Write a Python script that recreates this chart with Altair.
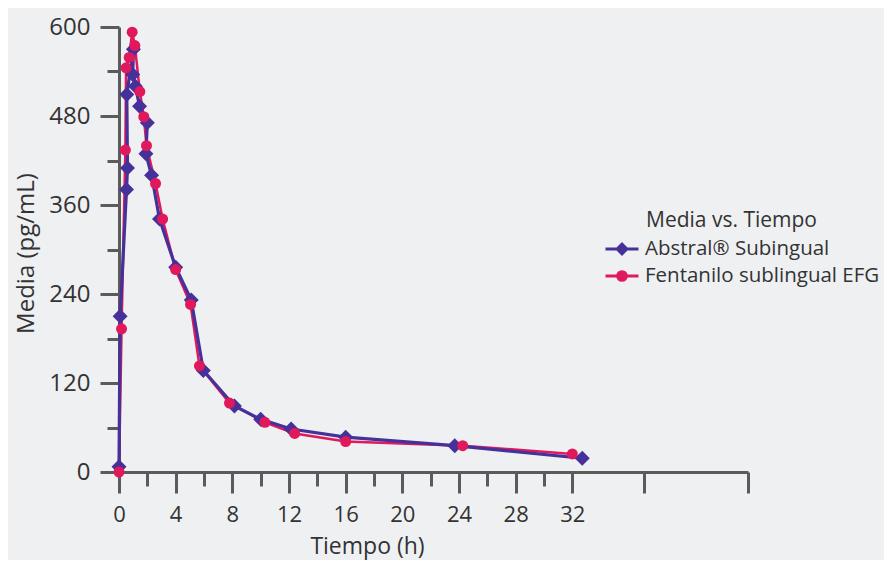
import altair as alt
import pandas as pd

SERIES = ["Abstral® Subingual", "Fentanilo sublingual EFG"]
LEGEND_TITLE = ["Media vs. Tiempo"]

abstral_t = [0, 0.08, 0.53, 0.6, 0.55, 1.02, 0.97, 1.16, 1.45, 2.0, 1.9, 2.3, 2.86, 4.0, 5.1, 5.95, 8.15, 10.0, 12.15, 16.0, 23.7, 32.7]
abstral_v = [7, 210, 381, 410, 509, 570, 536, 520, 493, 471, 429, 400, 341, 276, 232, 137, 89, 71, 58, 47, 35.5, 18.5]

fent_t = [0, 0.18, 0.45, 0.5, 0.72, 0.93, 1.12, 1.47, 1.75, 1.94, 2.58, 3.08, 4.0, 5.05, 5.68, 7.8, 10.3, 12.4, 16.0, 24.26, 32.0]
fent_v = [0, 193, 434, 545, 559, 593, 575, 513, 479, 440, 389, 341, 273, 226, 143, 93, 67, 52, 41, 35.5, 24.4]

x_major_ticks = [0, 4, 8, 12, 16, 20, 24, 28, 32, 37.05, 44.4]
x_minor_ticks = [2, 6, 10, 14, 18, 22, 26, 30]
y_major_ticks = [0, 120, 240, 360, 480, 600]
y_minor_ticks = [60, 180, 300, 420, 540]

PURPLE = "#46309a"
PINK = "#e0195c"
AX = "#5b5b5b"
TXT = "#333333"
FONT = "Open Sans"
BG = "#eff0f2"

df_a = pd.DataFrame({"t": abstral_t, "v": abstral_v, "series": SERIES[0], "idx": range(len(abstral_t))})
df_f = pd.DataFrame({"t": fent_t, "v": fent_v, "series": SERIES[1], "idx": range(len(fent_t))})
df_all = pd.concat([df_a, df_f], ignore_index=True)

xscale = alt.Scale(domain=[0, 44.4], nice=False, zero=False)
yscale = alt.Scale(domain=[0, 600], nice=False)

common = dict(domainColor=AX, domainWidth=3, tickColor=AX, tickWidth=3, grid=False,
              labelFont=FONT, labelColor=TXT, labelFlush=False,
              titleFont=FONT, titleColor=TXT, titleFontWeight="normal")

x_major_axis = alt.Axis(values=x_major_ticks, tickSize=21, labelPadding=11, labelFontSize=22,
                        labelExpr="datum.value <= 32 ? datum.label : ''",
                        title="Tiempo (h)", titleFontSize=23, titleX=248, titleY=81,
                        titleBaseline="alphabetic", orient="bottom", **common)
x_minor_axis = alt.Axis(values=x_minor_ticks, tickSize=14, labels=False, domain=False,
                        title=None, orient="bottom", tickColor=AX, tickWidth=3, grid=False)
y_major_axis = alt.Axis(values=y_major_ticks, tickSize=19, labelPadding=10, labelFontSize=24,
                        title="Media (pg/mL)", titleFontSize=24, titleX=-86, titleY=226,
                        titleBaseline="alphabetic", orient="left", **common)
y_minor_axis = alt.Axis(values=y_minor_ticks, tickSize=12, labels=False, domain=False,
                        title=None, orient="left", tickColor=AX, tickWidth=3, grid=False)

base_a = alt.Chart(df_a)
base_f = alt.Chart(df_f)

line_f = base_f.mark_line(color=PINK, strokeWidth=2.5).encode(
    x=alt.X("t:Q", scale=xscale, axis=x_major_axis),
    y=alt.Y("v:Q", scale=yscale, axis=y_major_axis),
    order=alt.Order("idx:Q"),
)
line_a = base_a.mark_line(color=PURPLE, strokeWidth=3.2).encode(
    x=alt.X("t:Q", scale=xscale, axis=x_minor_axis),
    y=alt.Y("v:Q", scale=yscale, axis=y_minor_axis),
    order=alt.Order("idx:Q"),
)
pts_a = base_a.mark_point(shape="diamond", filled=True, size=225, color=PURPLE, opacity=1).encode(
    x=alt.X("t:Q", scale=xscale, axis=None),
    y=alt.Y("v:Q", scale=yscale, axis=None),
)
pts_f = base_f.mark_point(shape="circle", filled=True, size=121, color=PINK, opacity=1).encode(
    x=alt.X("t:Q", scale=xscale, axis=None),
    y=alt.Y("v:Q", scale=yscale, axis=None),
)

DIAMOND_LINE = "M-1,0L1,0M0,-0.3L0.3,0L0,0.3L-0.3,0Z"
CIRCLE_LINE = "M-1,0L1,0M0.27,0A0.27,0.27,0,1,1,-0.27,0A0.27,0.27,0,1,1,0.27,0Z"

legend = alt.Legend(
    title=None, orient="none", legendX=485, legendY=211,
    symbolSize=1089, symbolStrokeWidth=2.8, symbolOpacity=1, clipHeight=22, rowPadding=5,
    labelFont=FONT, labelFontSize=20.5, labelColor=TXT, labelOffset=5, labelLimit=400,
    padding=0,
)
color_scale = alt.Scale(domain=SERIES, range=[PURPLE, PINK])
legend_layer = alt.Chart(df_all).transform_filter("false").mark_point(filled=True).encode(
    x=alt.X("t:Q", scale=xscale, axis=None),
    y=alt.Y("v:Q", scale=yscale, axis=None),
    fill=alt.Fill("series:N", scale=color_scale, legend=legend),
    stroke=alt.Stroke("series:N", scale=color_scale, legend=legend),
    shape=alt.Shape("series:N", scale=alt.Scale(domain=SERIES, range=[DIAMOND_LINE, CIRCLE_LINE]), legend=legend),
)
legend_title = alt.Chart(pd.DataFrame({"label": LEGEND_TITLE})).mark_text(
    align="left", baseline="middle", font=FONT, fontSize=21, color=TXT
).encode(text="label:N", x=alt.value(527), y=alt.value(194))

chart = alt.layer(line_f, line_a, pts_a, pts_f, legend_layer, legend_title).resolve_axis(
    x="independent", y="independent"
).properties(
    width=629, height=445,
    padding={"left": 111, "top": 19, "right": 136, "bottom": 88},
    autosize=alt.AutoSizeParams(type="none"),
    background=BG,
).configure_view(stroke=None)

chart.save("out.html", embed_options={"renderer": "svg", "actions": False})
